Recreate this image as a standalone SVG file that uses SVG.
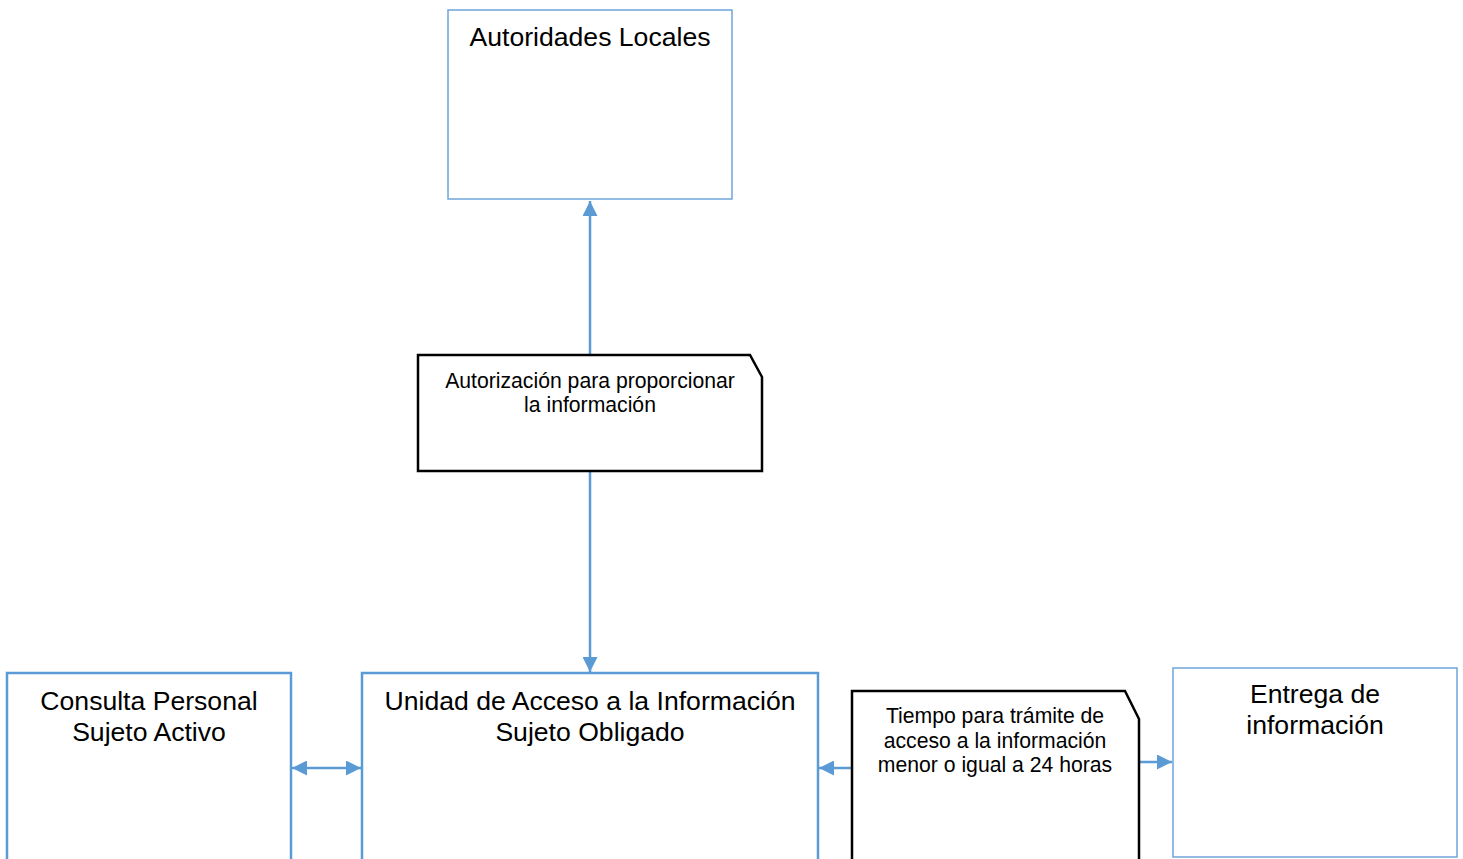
<svg xmlns="http://www.w3.org/2000/svg" width="1463" height="859" viewBox="0 0 1463 859">
<style>
.thin{fill:#fff;stroke:#6FA5DB;stroke-width:1.5}
.thick{fill:#fff;stroke:#5B9BD5;stroke-width:2.5}
.note{fill:#fff;stroke:#000;stroke-width:2.5}
.conn{fill:none;stroke:#5B9BD5;stroke-width:2.5}
.lg{font-family:"Liberation Sans",Arial,sans-serif;font-size:26.6px;fill:#000;text-anchor:middle}
.sm{font-family:"Liberation Sans",Arial,sans-serif;font-size:21.2px;fill:#000;text-anchor:middle}
</style>
<defs>
<marker id="ah" viewBox="0 0 10 10" refX="10" refY="5" markerWidth="6" markerHeight="6" markerUnits="strokeWidth" orient="auto-start-reverse">
<path d="M0,0 L10,5 L0,10 Z" fill="#5B9BD5"/>
</marker>
</defs>
<rect width="1463" height="859" fill="#fff"/>
<g id="connectors">
<line class="conn" x1="590" y1="355" x2="590" y2="201" marker-end="url(#ah)"/>
<line class="conn" x1="590" y1="471" x2="590" y2="672" marker-end="url(#ah)"/>
<line class="conn" x1="292" y1="768" x2="361" y2="768" marker-start="url(#ah)" marker-end="url(#ah)"/>
<line class="conn" x1="852" y1="768" x2="819" y2="768" marker-end="url(#ah)"/>
<line class="conn" x1="1139" y1="762" x2="1172" y2="762" marker-end="url(#ah)"/>
</g>
<g id="autoridades">
<rect class="thin" x="448" y="10" width="284" height="189"/>
<text class="lg" x="590" y="46">Autoridades Locales</text>
</g>
<g id="autorizacion">
<path class="note" d="M418,355 L750,355 L762,377 L762,471 L418,471 Z"/>
<text class="sm" x="590" y="388">Autorización para proporcionar</text>
<text class="sm" x="590" y="412">la información</text>
</g>
<g id="consulta">
<rect class="thick" x="7" y="673" width="284" height="200"/>
<text class="lg" x="149" y="710">Consulta Personal</text>
<text class="lg" x="149" y="741">Sujeto Activo</text>
</g>
<g id="unidad">
<rect class="thick" x="362" y="673" width="456" height="200"/>
<text class="lg" x="590" y="710">Unidad de Acceso a la Información</text>
<text class="lg" x="590" y="741">Sujeto Obligado</text>
</g>
<g id="tiempo">
<path class="note" d="M852,691 L1125,691 L1139,719 L1139,880 L852,880 Z"/>
<text class="sm" x="995" y="723">Tiempo para trámite de</text>
<text class="sm" x="995" y="748">acceso a la información</text>
<text class="sm" x="995" y="772">menor o igual a 24 horas</text>
</g>
<g id="entrega">
<rect class="thin" x="1173" y="668" width="284" height="189"/>
<text class="lg" x="1315" y="703">Entrega de</text>
<text class="lg" x="1315" y="734">información</text>
</g>
</svg>
